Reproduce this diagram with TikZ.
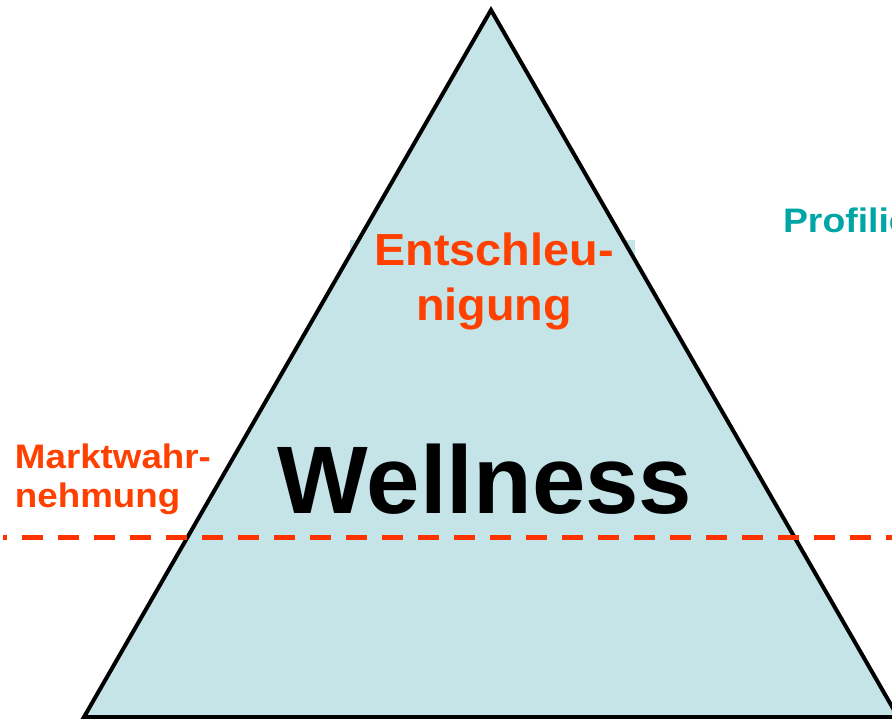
\documentclass[tikz,border=0pt]{standalone}
\usepackage{fontspec}
\setmainfont{Liberation Sans}
\usepackage{graphicx}
\definecolor{pyrfill}{HTML}{C4E4E8}
\definecolor{orangered}{HTML}{FF4000}
\definecolor{dashred}{HTML}{FF3300}
\definecolor{tealtext}{HTML}{00A6A6}
\tikzset{
  lbl/.style={inner sep=0pt, outer sep=0pt, font=\bfseries},
  redlbl/.style={lbl, text=orangered},
}
\begin{document}
\begin{tikzpicture}[x=1pt,y=-1pt]
\clip (0,0) rectangle (892,718);
\useasboundingbox (0,0) rectangle (892,718);
% text box fill behind upper label
\fill[pyrfill] (350,240) rectangle (635,340);
% pyramid
\coordinate (apex) at (491,10);
\coordinate (bl) at (84,717);
\coordinate (br) at (898,717);
\filldraw[fill=pyrfill, draw=black, line width=4pt, line join=miter] (apex) -- (br) -- (bl) -- cycle;
% dashed line
\coordinate (dl) at (3,537);
\coordinate (dr) at (900,537);
\draw[dashred, line width=5pt, dash pattern=on 21pt off 15pt, dash phase=17pt] (dl) -- (dr);
% labels
\node[redlbl, anchor=base] (ent1) at (494,265) {\fontsize{45}{54}\selectfont\scalebox{1.04}[1]{Entschleu-}};
\node[redlbl, anchor=base] (ent2) at (494,320) {\fontsize{45}{54}\selectfont\scalebox{1.04}[1]{nigung}};
\node[lbl, anchor=base] (well) at (485,513) {\fontsize{96}{110}\selectfont Wellness};
\node[redlbl, anchor=base west] (mk1) at (15,468) {\fontsize{34}{39}\selectfont\scalebox{1.08}[1]{Marktwahr-}};
\node[redlbl, anchor=base west] (mk2) at (15,507) {\fontsize{34}{39}\selectfont\scalebox{1.08}[1]{nehmung}};
\node[lbl, text=tealtext, anchor=base west] (prof) at (783,232) {\fontsize{34}{39}\selectfont\scalebox{1.1}[1]{Profilierung}};
\end{tikzpicture}
\end{document}
